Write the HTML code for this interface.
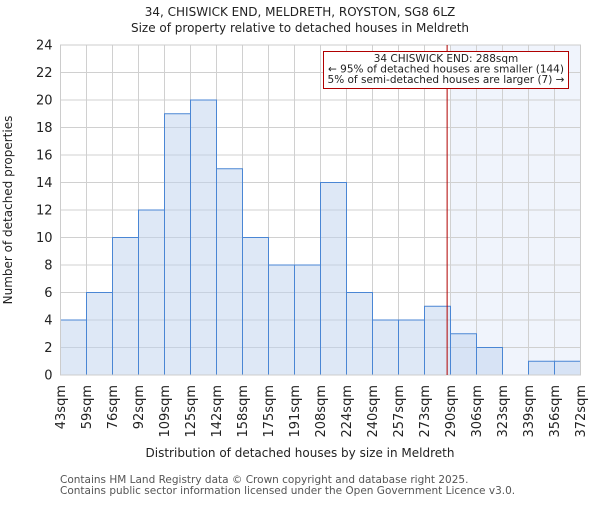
<!DOCTYPE html>
<html><head><meta charset="utf-8"><style>
body{margin:0;background:#fff}
svg{font-family:"DejaVu Sans","Liberation Sans",sans-serif}
</style></head><body>
<svg id="c" width="600" height="500" xmlns="http://www.w3.org/2000/svg">
<text x="300" y="16" text-anchor="middle" font-size="12" fill="#222">34, CHISWICK END, MELDRETH, ROYSTON, SG8 6LZ</text>
<text x="300" y="32" text-anchor="middle" font-size="12" fill="#222">Size of property relative to detached houses in Meldreth</text>
<g id="plot"></g>
<text x="300" y="457" text-anchor="middle" font-size="12" fill="#222">Distribution of detached houses by size in Meldreth</text>
<text transform="translate(12,210) rotate(-90)" text-anchor="middle" font-size="12" fill="#222">Number of detached properties</text>
<text x="60" y="483" font-size="10.5" fill="#555">Contains HM Land Registry data © Crown copyright and database right 2025.</text>
<text x="60" y="494" font-size="10.5" fill="#555">Contains public sector information licensed under the Open Government Licence v3.0.</text>
</svg>
<script>
const binLabels=["43sqm","59sqm","76sqm","92sqm","109sqm","125sqm","142sqm","158sqm","175sqm","191sqm","208sqm","224sqm","240sqm","257sqm","273sqm","290sqm","306sqm","323sqm","339sqm","356sqm","372sqm"];
const counts=[4,6,10,12,19,20,15,10,8,8,14,6,4,4,5,3,2,0,1,1];
const yTicks=[0,2,4,6,8,10,12,14,16,18,20,22,24];
const markerBin=14.87;
const NS="http://www.w3.org/2000/svg";
const L=60.5,R=580.5,T=45,B=375,yMax=24;
const g=document.getElementById('plot');
const xs=i=>L+i*(R-L)/counts.length;
const ys=v=>B-v*(B-T)/yMax;
function mk(t,a,p){const e=document.createElementNS(NS,t);for(const k in a)e.setAttribute(k,a[k]);(p||g).appendChild(e);return e;}
let sh=mk('rect',{x:xs(Math.ceil(markerBin)),y:T,width:R-xs(Math.ceil(markerBin)),height:B-T,fill:'#f0f4fc'});


yTicks.forEach(v=>{let l=mk('line',{x1:L,x2:R,y1:ys(v),y2:ys(v),stroke:'#d0d0d0'});


let t=mk('text',{x:L-8,y:ys(v)+4.5,'text-anchor':'end','font-size':'13',fill:'#222'});t.textContent=v;

});
binLabels.forEach((s,i)=>{let l=mk('line',{x1:xs(i),x2:xs(i),y1:T,y2:B,stroke:'#d0d0d0'});


let t=mk('text',{transform:`translate(${xs(i)+4.5},385) rotate(-90)`,'text-anchor':'end','font-size':'13',fill:'#222'});t.textContent=s;

});
counts.forEach((v,i)=>{if(!v)return;let r=mk('rect',{x:xs(i),y:ys(v),width:xs(i+1)-xs(i),height:B-ys(v),fill:'rgba(190,210,238,0.5)',stroke:'#4a86d4','stroke-width':1});

});
let f=mk('rect',{x:L,y:T,width:R-L,height:B-T,fill:'none',stroke:'#ccc'});


let m=mk('line',{x1:xs(markerBin),x2:xs(markerBin),y1:T,y2:B,stroke:'#b00000','stroke-width':1});


let box=mk('rect',{x:323.5,y:51.5,width:245,height:37,fill:'#fff',stroke:'#b00000'});


["34 CHISWICK END: 288sqm","← 95% of detached houses are smaller (144)","5% of semi-detached houses are larger (7) →"].forEach((s,i)=>{
let t=mk('text',{x:446,y:62+i*10.5,'text-anchor':'middle','font-size':'10.5',fill:'#222'});t.textContent=s;

});
</script>
</body></html>
